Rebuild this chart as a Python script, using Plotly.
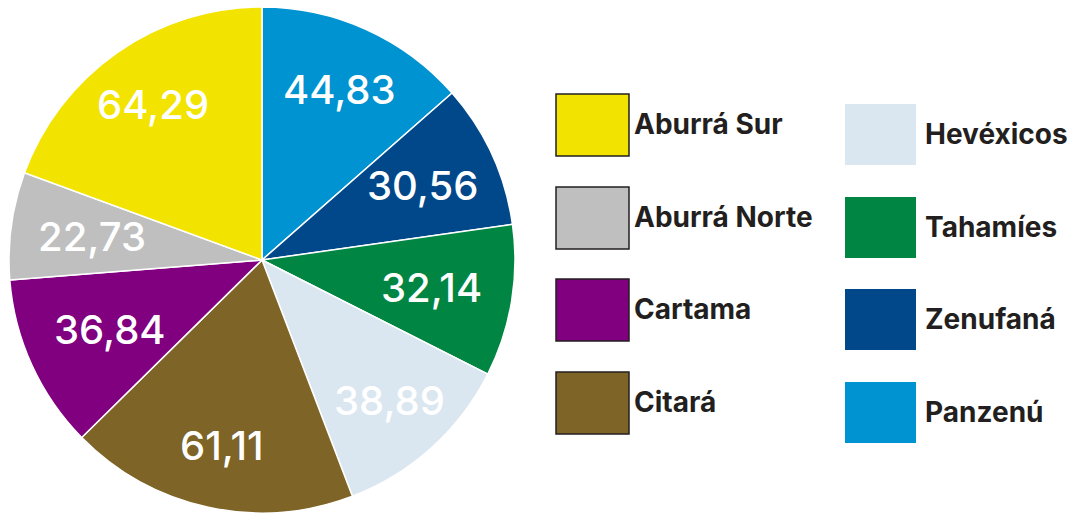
import math
import plotly.graph_objects as go

# Regions and their values, listed clockwise from 12 o'clock
regions = ["Panzenú", "Zenufaná", "Tahamíes", "Hevéxicos",
           "Citará", "Cartama", "Aburrá Norte", "Aburrá Sur"]
values = [44.83, 30.56, 32.14, 38.89, 61.11, 36.84, 22.73, 64.29]

colors = {
    "Panzenú": "#0093d1",
    "Zenufaná": "#00488a",
    "Tahamíes": "#008542",
    "Hevéxicos": "#dae7f1",
    "Citará": "#7e6426",
    "Cartama": "#800080",
    "Aburrá Norte": "#bfbfbf",
    "Aburrá Sur": "#f3e300",
}

# Legend layout: two columns
legend_left = ["Aburrá Sur", "Aburrá Norte", "Cartama", "Citará"]
legend_right = ["Hevéxicos", "Tahamíes", "Zenufaná", "Panzenú"]

W, H = 1072, 513
CX, CY, R = 262, 260, 253          # pie centre and radius in pixels
label_radius = [0.74, 0.70, 0.68, 0.75, 0.75, 0.66, 0.68, 0.75]

def px_x(x):
    return x / W

def px_y(y):
    return 1 - y / H

fig = go.Figure()
fig.add_trace(go.Pie(
    labels=regions,
    values=values,
    sort=False,
    direction="clockwise",
    rotation=0,
    marker=dict(colors=[colors[r] for r in regions],
                line=dict(color="white", width=1.5)),
    textinfo="none",
    hoverinfo="label+value",
    showlegend=False,
    domain=dict(x=[0, 2 * CX / W], y=[0, 2 * R / H]),
))

annotations = []
shapes = []

# Value labels placed along each slice's bisector
total = sum(values)
cum = 0.0
for name, v, f in zip(regions, values, label_radius):
    mid = math.radians(360 * (cum + v / 2) / total)
    cum += v
    lx = CX + R * f * math.sin(mid)
    ly = CY - R * f * math.cos(mid)
    annotations.append(dict(
        x=px_x(lx), y=px_y(ly), xref="paper", yref="paper",
        text=f"{v:.2f}".replace(".", ","), showarrow=False,
        xanchor="center", yanchor="middle",
        font=dict(family="Inter", size=40, color="white", weight=500),
    ))

# Custom two-column legend
def legend_column(names, box_x0, box_w, box_h, tops, text_x, outlined):
    for name, top in zip(names, tops):
        shapes.append(dict(
            type="rect", xref="paper", yref="paper",
            x0=px_x(box_x0), x1=px_x(box_x0 + box_w),
            y0=px_y(top + box_h), y1=px_y(top),
            fillcolor=colors[name],
            line=dict(color="#231f20" if outlined else colors[name],
                      width=1.5 if outlined else 0),
        ))
        annotations.append(dict(
            x=px_x(text_x), y=px_y(top + box_h / 2 - 1),
            xref="paper", yref="paper", text=name, showarrow=False,
            xanchor="left", yanchor="middle",
            font=dict(family="Inter", size=28, color="#231f20", weight=700),
        ))

legend_column(legend_left, 556, 73, 62, [94, 187, 279, 372], 632, True)
legend_column(legend_right, 845, 71, 61, [104, 197, 289, 382], 923, False)

fig.update_layout(
    width=W, height=H,
    margin=dict(l=0, r=0, t=0, b=0),
    paper_bgcolor="white",
    plot_bgcolor="white",
    annotations=annotations,
    shapes=shapes,
)

fig.write_html("out.html")
